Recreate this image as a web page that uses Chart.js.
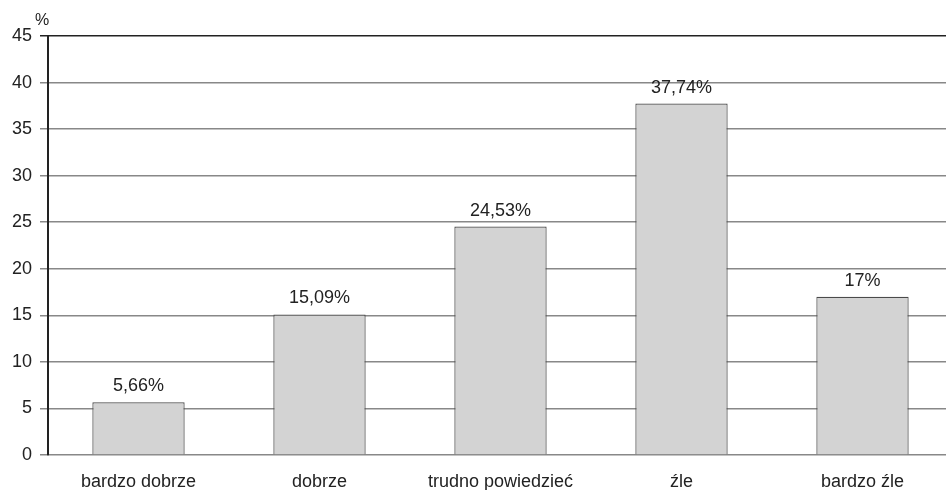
<!DOCTYPE html>
<html>
<head>
<meta charset="utf-8">
<style>
  html, body { margin: 0; padding: 0; background: #fff; overflow: hidden; }
  #wrap { width: 946px; height: 490px; overflow: hidden; }
</style>
<script src="https://cdn.jsdelivr.net/npm/chart.js@4"></script>
</head>
<body>
<div id="wrap"><canvas id="c" width="953" height="490"></canvas></div>
<script>
const categories = ['bardzo dobrze', 'dobrze', 'trudno powiedzieć', 'źle', 'bardzo źle'];
const values = [5.66, 15.09, 24.53, 37.74, 17];
const valueLabels = ['5,66%', '15,09%', '24,53%', '37,74%', '17%'];
const yTicks = [0, 5, 10, 15, 20, 25, 30, 35, 40, 45];

const FONT = '"Liberation Sans", Arial, sans-serif';

// value labels above bars + the "%" unit above the y axis
const labelsPlugin = {
  id: 'barLabels',
  afterDatasetsDraw(chart) {
    const ctx = chart.ctx;
    const meta = chart.getDatasetMeta(0);
    ctx.save();
    ctx.fillStyle = '#222';
    ctx.font = '18px ' + FONT;
    ctx.textAlign = 'center';
    ctx.textBaseline = 'alphabetic';
    meta.data.forEach((bar, i) => {
      ctx.fillText(valueLabels[i], bar.x, bar.y - 11);
    });
    const y = chart.scales.y;
    ctx.font = '16px ' + FONT;
    ctx.fillText('%', y.right - 6, 25);
    ctx.restore();
  }
};

new Chart(document.getElementById('c'), {
  type: 'bar',
  data: {
    labels: categories,
    datasets: [{
      data: values,
      backgroundColor: '#d3d3d3',
      borderColor: '#4a4a4a',
      borderWidth: 1.2,
      categoryPercentage: 1,
      barPercentage: 0.51
    }]
  },
  options: {
    responsive: false,
    animation: false,
    layout: { padding: { top: 36, right: 0, left: 0, bottom: 0 } },
    plugins: { legend: { display: false }, tooltip: { enabled: false } },
    scales: {
      x: {
        grid: { display: false },
        border: { display: false },
        ticks: { color: '#222', font: { size: 18, family: FONT }, padding: 8, maxRotation: 0 },
        afterFit(s) { s.height = 35; }
      },
      y: {
        min: 0,
        max: 45,
        afterBuildTicks(s) { s.ticks = yTicks.map(v => ({ value: v })); },
        grid: {
          color: c => c.tick && c.tick.value === 45 ? '#222' : '#888',
          lineWidth: 1.5,
          tickLength: 8
        },
        border: { color: '#222', width: 2 },
        ticks: { color: '#222', font: { size: 18, family: FONT }, padding: 8 },
        afterFit(s) { s.width = 48; }
      }
    }
  },
  plugins: [labelsPlugin]
});
</script>
</body>
</html>
